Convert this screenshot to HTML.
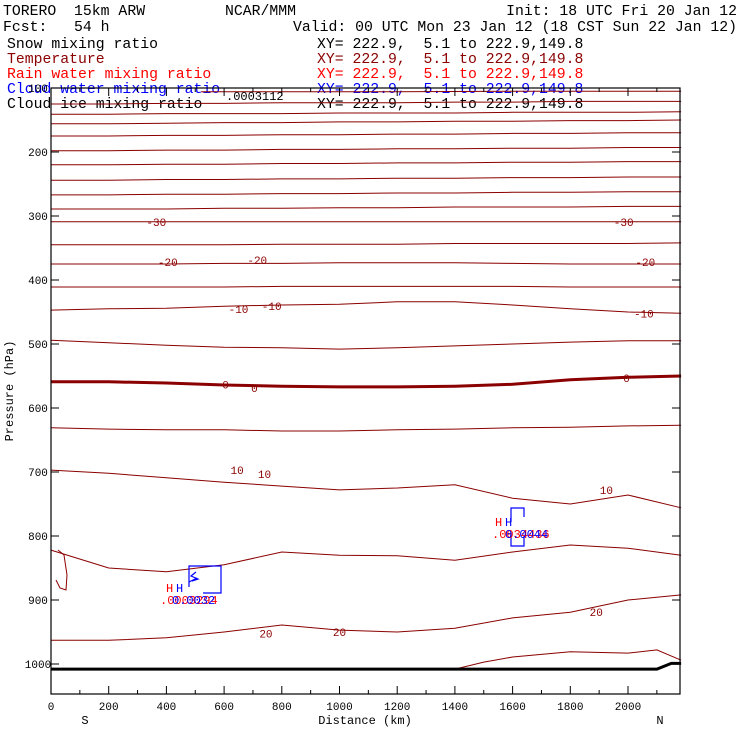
<!DOCTYPE html>
<html><head><meta charset="utf-8"><style>
body{margin:0;background:#fff}
svg text{font-family:"Liberation Mono",monospace;white-space:pre}
</style></head><body>
<svg id="c" width="740" height="740" viewBox="0 0 740 740" xmlns="http://www.w3.org/2000/svg" xml:space="preserve">
<rect width="740" height="740" fill="#fff"/>
<g font-size="14.8">
<text x="3" y="15">TORERO  15km ARW</text>
<text x="225" y="15">NCAR/MMM</text>
<text x="737" y="15" text-anchor="end">Init: 18 UTC Fri 20 Jan 12</text>
<text x="3" y="31">Fcst:   54 h</text>
<text x="737" y="31" text-anchor="end">Valid: 00 UTC Mon 23 Jan 12 (18 CST Sun 22 Jan 12)</text>
<text x="7" y="48">Snow mixing ratio</text>
<text x="317" y="48">XY= 222.9,  5.1 to 222.9,149.8</text>
<text x="7" y="63" fill="#8b0000">Temperature</text>
<text x="317" y="63" fill="#8b0000">XY= 222.9,  5.1 to 222.9,149.8</text>
<text x="7" y="78" fill="#ff0000">Rain water mixing ratio</text>
<text x="317" y="78" fill="#ff0000">XY= 222.9,  5.1 to 222.9,149.8</text>
<text x="7" y="93" fill="#0000ff">Cloud water mixing ratio</text>
<text x="317" y="93" fill="#0000ff">XY= 222.9,  5.1 to 222.9,149.8</text>
<text x="7" y="108">Cloud ice mixing ratio</text>
<text x="317" y="108">XY= 222.9,  5.1 to 222.9,149.8</text>
</g>
<g id="plot"></g>
</svg>
<script>
const dist=[0,200,400,600,800,1000,1200,1400,1600,1800,2000,2184];
const tempLines=[
[125,125,124,124,123,123,123,122,122,121,121,121],
[141,141,140,140,140,139,139,139,138,138,138,137],
[156,156,155,154,154,153,153,152,152,151,151,150],
[175,175,174,174,173,173,172,172,171,171,170,170],
[198,198,197,197,196,196,195,195,194,194,193,193],
[220,220,219,219,218,218,217,217,216,216,215,215],
[244,244,243,243,242,242,241,241,240,240,239,239],
[267,267,266,266,265,265,264,264,263,263,262,262],
[289,289,289,288,288,287,287,286,286,286,285,285],
[309,309,309,309,309,309,309,309,309,309,309,309],
[345,345,345,345,344,344,344,343,343,343,343,342],
[375,375,375,374,374,373,373,373,374,375,375,375],
[411,411,411,411,410,410,410,410,410,411,411,411],
[447,445,444,441,439,438,434,434,439,445,450,452],
[494,498,502,505,506,508,506,503,500,497,495,495],
[559,559,561,564,566,567,567,566,563,556,552,550],
[631,633,634,634,636,636,634,633,631,630,628,627],
[697,702,709,716,722,728,725,720,741,750,736,756],
[822,850,856,845,825,830,831,838,825,814,819,830],
[963,963,959,950,939,947,950,944,928,919,900,892]
];
const thickIndex=15;
const topDist=[520,800,1200,1600,2000,2184];
const topLine=[106,106,106,105,105,105];
const bottomDist=[1400,1500,1600,1800,2000,2100,2184];
const bottomLine=[1008,997,989,981,983,978,994];
const groundDist=[0,1000,2000,2100,2150,2184];
const groundP=[1008,1008,1008,1008,999,999];
const contourLabels=[["-30",365,309],["-30",1985,309],["-20",405,372],["-20",715,369],["-20",2060,372],["-10",650,445],["-10",765,441],["-10",2055,452],["0",605,563],["0",705,569],["0",1995,553],["10",645,697],["10",740,703],["10",1925,728],["20",745,952],["20",1000,950],["20",1890,919]];
const xTicks=[0,200,400,600,800,1000,1200,1400,1600,1800,2000];
const yTicks=[100,200,300,400,500,600,700,800,900,1000];
const X0=51,X1=680,Y0=88,Y1=694;
const xs=d=>X0+d*(628-51)/2000;
const ys=p=>Y0+(p-100)*0.64;
const NS="http://www.w3.org/2000/svg";
const g=document.getElementById('plot');
function mk(t,a){const e=document.createElementNS(NS,t);for(const k in a)e.setAttribute(k,a[k]);g.appendChild(e);return e;}
function path(dArr,pArr){return dArr.map((d,i)=>(i?'L':'M')+xs(d).toFixed(1)+','+ys(pArr[i]).toFixed(1)).join('');}
tempLines.forEach((ln,i)=>{
const e=mk('path',{d:path(dist,ln),fill:'none',stroke:'#8b0000','stroke-width':i===thickIndex?3:1});


});
let e=mk('path',{d:path(topDist,topLine),fill:'none',stroke:'#8b0000','stroke-width':1});


e=mk('path',{d:path(bottomDist,bottomLine),fill:'none',stroke:'#8b0000','stroke-width':1});


e=mk('path',{d:'M58,550 L64,555 L67,575 L66,590 L60,588 L56,580',fill:'none',stroke:'#8b0000','stroke-width':1});


e=mk('path',{d:path(groundDist,groundP),fill:'none',stroke:'#000','stroke-width':3});


contourLabels.forEach(l=>{
const t=mk('text',{x:xs(l[1]),y:ys(l[2])+4,'text-anchor':'middle','font-size':11,fill:'#8b0000'});
t.textContent=l[0];


});
e=mk('path',{d:'M189,587 L189,566 L221,566 L221,593 L203,593 M196,572 L191,576 L198,579 L192,581 M189,582 L197,578',fill:'none',stroke:'#0000ff','stroke-width':1.2});


e=mk('path',{d:'M511,522 L511,508 L524,508 L524,517 M511,533 L511,546 L524,546 L524,536',fill:'none',stroke:'#0000ff','stroke-width':1.2});


[["H",166,592,'#ff0000'],["H",176,592,'#0000ff'],[".0003294",160,604,'#ff0000'],["0.0032",172,604,'#0000ff'],["H",495,526,'#ff0000'],["H",505,526,'#0000ff'],[".0034436",492,538,'#ff0000'],["0.0044",505,538,'#0000ff'],[".0003112",226,100,'#000']].forEach(h=>{
const t=mk('text',{x:h[1],y:h[2],'font-size':12,fill:h[3]});
t.textContent=h[0];


});
e=mk('rect',{x:X0,y:Y0,width:X1-X0,height:Y1-Y0,fill:'none',stroke:'#000','stroke-width':1.2});


for(let d=0;d<=2100;d+=100){
const L=(d%200===0)?8:4;
const a=mk('line',{x1:xs(d),x2:xs(d),y1:Y1,y2:Y1-L,stroke:'#000'});


const b=mk('line',{x1:xs(d),x2:xs(d),y1:Y0,y2:Y0+L,stroke:'#000'});


}
xTicks.forEach(d=>{
const t=mk('text',{x:xs(d),y:710,'text-anchor':'middle','font-size':11});
t.textContent=d;


});
yTicks.forEach(p=>{
const a=mk('line',{x1:X0,x2:X0+8,y1:ys(p),y2:ys(p),stroke:'#000'});


const b=mk('line',{x1:X1,x2:X1-8,y1:ys(p),y2:ys(p),stroke:'#000'});


const t=mk('text',{x:38,y:ys(p)+4,'text-anchor':'middle','font-size':11});
t.textContent=p;


});
e=mk('text',{x:13,y:391,'text-anchor':'middle','font-size':12,transform:'rotate(-90 13 391)'});
e.textContent='Pressure (hPa)';


e=mk('text',{x:365,y:724,'text-anchor':'middle','font-size':12});
e.textContent='Distance (km)';


e=mk('text',{x:85,y:724,'text-anchor':'middle','font-size':12});
e.textContent='S';


e=mk('text',{x:660,y:724,'text-anchor':'middle','font-size':12});
e.textContent='N';


</script>
</body></html>
